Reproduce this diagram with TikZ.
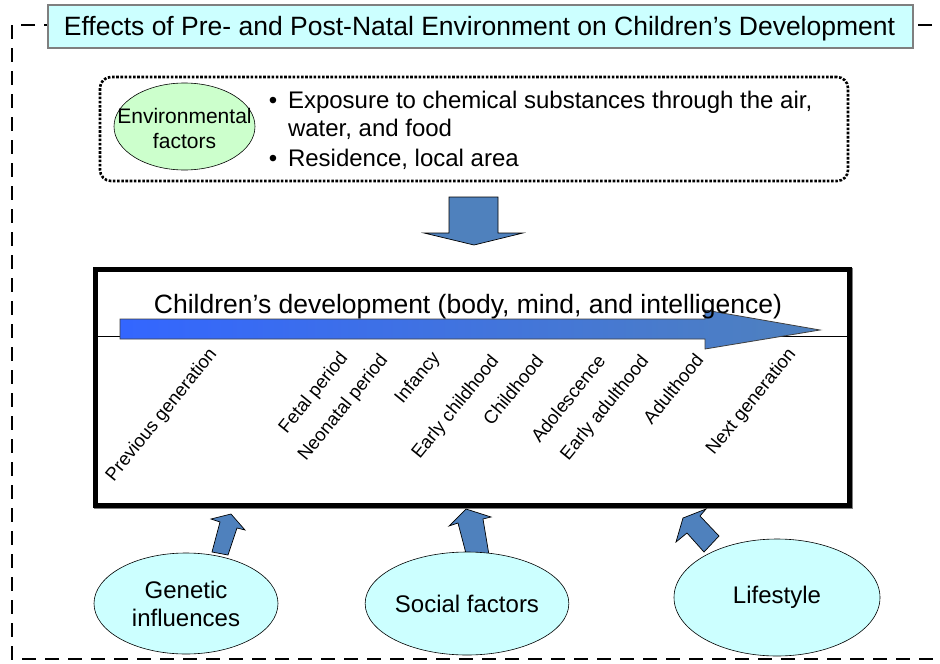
\documentclass[tikz,border=0pt]{standalone}
\usepackage{fontspec}
\setmainfont{Liberation Sans}
\usetikzlibrary{shapes.geometric}

\definecolor{paleCyan}{HTML}{CCFFFF}
\definecolor{paleGreen}{HTML}{CCFFCC}
\definecolor{steel}{HTML}{4F81BD}
\definecolor{brightBlue}{HTML}{3366FF}
\definecolor{frameGray}{HTML}{7F7F7F}

\begin{document}
\begin{tikzpicture}[x=1pt,y=-1pt,
  every node/.style={inner sep=0pt, outer sep=0pt},
  outerframe/.style={draw=black, line width=2pt, dash pattern=on 14pt off 9pt},
  titlebox/.style={rectangle, draw=frameGray, line width=1.2pt, fill=paleCyan},
  envframe/.style={rectangle, rounded corners=11pt, draw=black, line width=2.6pt,
    dash pattern=on 2.6pt off 1.6pt},
  bigfont/.style={font=\fontsize{26.5}{30}\selectfont},
  bulletfont/.style={font=\fontsize{24}{28}\selectfont},
  factor/.style={ellipse, draw=black, line width=0.6pt, fill=paleCyan,
    align=center, font=\fontsize{24}{28}\selectfont},
  blockarrow/.style={fill=steel, draw=black, line width=0.7pt, line join=miter},
  stage/.style={rotate=51, anchor=north east, font=\fontsize{18.5}{19}\selectfont}]

\useasboundingbox (0,0) rectangle (940,664);
\clip (0,0) rectangle (940,664);
\fill[white] (0,0) rectangle (940,664);

% dashed frame around the whole scheme
\draw[outerframe] (12,25) rectangle (965,659);

% heading
\node[titlebox, minimum width=865pt, minimum height=43pt] (heading) at (480.5,26.5) {};
\node[bigfont, anchor=base] (headtext) at (479.5,35)
  {Effects of Pre- and Post-Natal Environment on Children’s Development};

% environmental factors panel
\node[envframe, minimum width=748pt, minimum height=104pt] (envpanel) at (474,129) {};
\node[ellipse, draw=black, line width=0.6pt, fill=paleGreen,
  minimum width=141pt, minimum height=87pt] (envoval) at (184.5,126.5) {};
\node[align=center, font=\fontsize{21}{25}\selectfont] (envtext) at (184.5,128)
  {Environmental\\factors};
\node[bulletfont, anchor=base] (dotA) at (273,108) {•};
\node[bulletfont, anchor=base west] (itemA) at (288,108)
  {Exposure to chemical substances through the air,};
\node[bulletfont, anchor=base west] (itemB) at (288,136) {water, and food};
\node[bulletfont, anchor=base] (dotC) at (273,166) {•};
\node[bulletfont, anchor=base west] (itemC) at (288,166) {Residence, local area};

% arrow down into the development box
\draw[blockarrow] (449,197) -- (498,197) -- (498,233) -- (523,233) -- (474,245)
  -- (424,233) -- (449,233) -- cycle;

% development box
\node[rectangle, draw=frameGray, line width=5pt, minimum width=754pt,
  minimum height=236pt] (devshadow) at (473.5,388.5) {};
\node[rectangle, draw=black, fill=white, line width=5pt, minimum width=754pt,
  minimum height=236pt] (devbox) at (472,387) {};
\coordinate (axisL) at (96,336);
\coordinate (axisR) at (847,336);
\draw[line width=0.9pt] (axisL) -- (axisR);

% time arrow
\draw[left color=brightBlue, right color=steel, draw=black!75, line width=0.8pt]
  (120,319) -- (705,319) -- (705,310) -- (820,330) -- (705,349) -- (705,339)
  -- (120,339) -- cycle;

\node[bigfont, anchor=base] (devtitle) at (468,313)
  {Children’s development (body, mind, and intelligence)};

% life stages
\node[stage] (s1) at (207,346) {Previous generation};
\node[stage] (s2) at (338,350) {Fetal period};
\node[stage] (s3) at (378,352) {Neonatal period};
\node[stage] (s4) at (430,350) {Infancy};
\node[stage] (s5) at (489,353) {Early childhood};
\node[stage] (s6) at (534,353) {Childhood};
\node[stage] (s7) at (596,353) {Adolescence};
\node[stage] (s8) at (639,353) {Early adulthood};
\node[stage] (s9) at (694,352) {Adulthood};
\node[stage] (s10) at (786,346) {Next generation};

% arrows from the factors up into the box
\draw[blockarrow] (231,514) -- (245,530) -- (237,528) -- (228,555) -- (212,552)
  -- (220,522) -- (211,519) -- cycle;
\draw[blockarrow] (466,509) -- (491,517) -- (483,519) -- (489,555) -- (468,561)
  -- (458,523) -- (449,526) -- cycle;
\draw[blockarrow] (683,518) -- (706,509) -- (700,516) -- (719,536) -- (704,552)
  -- (687,533) -- (676,542) -- cycle;

% factors
\node[factor, minimum width=184pt, minimum height=101pt] (genetic) at (186,603.5)
  {Genetic\\influences};
\node[factor, minimum width=190pt, minimum height=103pt] (social) at (467,603.5)
  {Social factors};
\node[factor, minimum width=206pt, minimum height=117pt] (lifestyle) at (777,597.5)
  {Lifestyle};

\end{tikzpicture}
\end{document}
